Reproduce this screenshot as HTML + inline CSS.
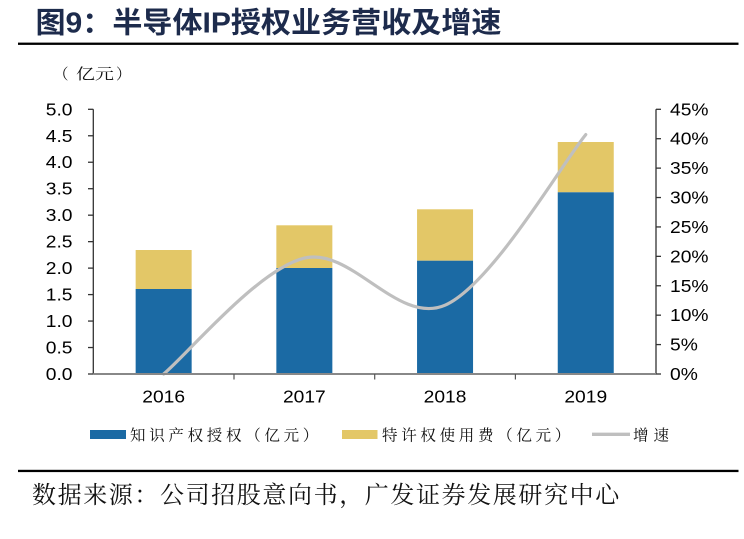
<!DOCTYPE html>
<html>
<head>
<meta charset="utf-8">
<style>
html,body{margin:0;padding:0;background:#fff;}
svg{display:block;}
.num{font-family:"Liberation Sans",Arial,sans-serif;font-size:17.5px;fill:#000;}
.cjk{font-family:"Liberation Serif","Noto Serif CJK SC",serif;fill:#111;}
</style>
</head>
<body>
<svg width="744" height="539" viewBox="0 0 744 539" xmlns="http://www.w3.org/2000/svg">
<rect width="744" height="539" fill="#fff"/>

<!-- Title -->
<text x="35.5" y="32.5" font-family="'Liberation Sans','Noto Sans CJK SC',sans-serif" font-weight="bold" font-size="29" fill="#1d2b4c" textLength="466" lengthAdjust="spacingAndGlyphs">图9：半导体IP授权业务营收及增速</text>
<rect x="18" y="42.6" width="720.5" height="2.3" fill="#000"/>

<!-- unit label -->
<text class="cjk" x="53.5" y="79" font-size="15">（</text>
<text class="cjk" x="76" y="79" font-size="15" textLength="38" lengthAdjust="spacingAndGlyphs">亿元</text>
<text class="cjk" x="116" y="79" font-size="15">）</text>

<!-- Bars -->
<g>
  <rect x="135.65" y="250" width="56" height="39" fill="#e3c767"/>
  <rect x="135.65" y="289" width="56" height="85" fill="#1b6aa4"/>
  <rect x="276.35" y="225.3" width="56" height="42.7" fill="#e3c767"/>
  <rect x="276.35" y="268" width="56" height="106" fill="#1b6aa4"/>
  <rect x="417.05" y="209.3" width="56" height="51.4" fill="#e3c767"/>
  <rect x="417.05" y="260.7" width="56" height="113.3" fill="#1b6aa4"/>
  <rect x="557.75" y="142" width="56" height="50.3" fill="#e3c767"/>
  <rect x="557.75" y="192.3" width="56" height="181.7" fill="#1b6aa4"/>
</g>

<!-- Growth line -->
<path d="M163.65,374 C187.1,354.7 257.45,269.57 304.35,258.1 C351.25,246.63 398.15,325.78 445.05,305.2 C491.95,284.62 562.3,163.03 585.75,134.6" fill="none" stroke="#bfbfbf" stroke-width="3.2" stroke-linecap="round"/>

<!-- Left axis -->
<g stroke="#333" stroke-width="1.3">
  <line x1="93.3" y1="109.3" x2="93.3" y2="374"/>
  <line x1="88" y1="109.3" x2="93.3" y2="109.3"/>
  <line x1="88" y1="135.77" x2="93.3" y2="135.77"/>
  <line x1="88" y1="162.24" x2="93.3" y2="162.24"/>
  <line x1="88" y1="188.71" x2="93.3" y2="188.71"/>
  <line x1="88" y1="215.18" x2="93.3" y2="215.18"/>
  <line x1="88" y1="241.65" x2="93.3" y2="241.65"/>
  <line x1="88" y1="268.12" x2="93.3" y2="268.12"/>
  <line x1="88" y1="294.59" x2="93.3" y2="294.59"/>
  <line x1="88" y1="321.06" x2="93.3" y2="321.06"/>
  <line x1="88" y1="347.53" x2="93.3" y2="347.53"/>
  <line x1="88" y1="374" x2="93.3" y2="374"/>
</g>
<g class="num" text-anchor="end">
  <text transform="translate(72.5,115.3) scale(1.1,1)">5.0</text>
  <text transform="translate(72.5,141.77) scale(1.1,1)">4.5</text>
  <text transform="translate(72.5,168.24) scale(1.1,1)">4.0</text>
  <text transform="translate(72.5,194.71) scale(1.1,1)">3.5</text>
  <text transform="translate(72.5,221.18) scale(1.1,1)">3.0</text>
  <text transform="translate(72.5,247.65) scale(1.1,1)">2.5</text>
  <text transform="translate(72.5,274.12) scale(1.1,1)">2.0</text>
  <text transform="translate(72.5,300.59) scale(1.1,1)">1.5</text>
  <text transform="translate(72.5,327.06) scale(1.1,1)">1.0</text>
  <text transform="translate(72.5,353.53) scale(1.1,1)">0.5</text>
  <text transform="translate(72.5,380) scale(1.1,1)">0.0</text>
</g>

<!-- Right axis -->
<g stroke="#333" stroke-width="1.3">
  <line x1="656" y1="109.3" x2="656" y2="374"/>
  <line x1="656" y1="109.3" x2="661" y2="109.3"/>
  <line x1="656" y1="138.71" x2="661" y2="138.71"/>
  <line x1="656" y1="168.12" x2="661" y2="168.12"/>
  <line x1="656" y1="197.53" x2="661" y2="197.53"/>
  <line x1="656" y1="226.94" x2="661" y2="226.94"/>
  <line x1="656" y1="256.35" x2="661" y2="256.35"/>
  <line x1="656" y1="285.76" x2="661" y2="285.76"/>
  <line x1="656" y1="315.17" x2="661" y2="315.17"/>
  <line x1="656" y1="344.58" x2="661" y2="344.58"/>
  <line x1="656" y1="374" x2="661" y2="374"/>
</g>
<g class="num">
  <text transform="translate(670,115.3) scale(1.1,1)">45%</text>
  <text transform="translate(670,144.71) scale(1.1,1)">40%</text>
  <text transform="translate(670,174.12) scale(1.1,1)">35%</text>
  <text transform="translate(670,203.53) scale(1.1,1)">30%</text>
  <text transform="translate(670,232.94) scale(1.1,1)">25%</text>
  <text transform="translate(670,262.35) scale(1.1,1)">20%</text>
  <text transform="translate(670,291.76) scale(1.1,1)">15%</text>
  <text transform="translate(670,321.17) scale(1.1,1)">10%</text>
  <text transform="translate(670,350.58) scale(1.1,1)">5%</text>
  <text transform="translate(670,380) scale(1.1,1)">0%</text>
</g>

<!-- X axis -->
<line x1="93.3" y1="374" x2="656" y2="374" stroke="#888" stroke-width="2"/>
<g stroke="#555" stroke-width="1.2">
  <line x1="234" y1="374" x2="234" y2="379.5"/>
  <line x1="374.7" y1="374" x2="374.7" y2="379.5"/>
  <line x1="515.4" y1="374" x2="515.4" y2="379.5"/>
</g>
<g class="num" text-anchor="middle">
  <text transform="translate(163.65,402.3) scale(1.1,1)">2016</text>
  <text transform="translate(304.35,402.3) scale(1.1,1)">2017</text>
  <text transform="translate(445.05,402.3) scale(1.1,1)">2018</text>
  <text transform="translate(585.75,402.3) scale(1.1,1)">2019</text>
</g>

<!-- Legend -->
<rect x="90" y="430" width="36" height="9" fill="#1b6aa4"/>
<text class="cjk" x="130" y="440.5" font-size="15.5" letter-spacing="3.7">知识产权授权（亿元）</text>
<rect x="342" y="430" width="35.5" height="9" fill="#e3c767"/>
<text class="cjk" x="382" y="440.5" font-size="15.5" letter-spacing="3.7">特许权使用费（亿元）</text>
<line x1="592" y1="434.3" x2="630" y2="434.3" stroke="#bfbfbf" stroke-width="3.3"/>
<text class="cjk" x="633" y="440.5" font-size="15.5" letter-spacing="5">增速</text>

<!-- Bottom rule & source -->
<rect x="18" y="469.8" width="720.5" height="2.3" fill="#000"/>
<text class="cjk" x="32" y="503" font-size="24" letter-spacing="1.6">数据来源：公司招股意向书，广发证券发展研究中心</text>
</svg>
</body>
</html>
